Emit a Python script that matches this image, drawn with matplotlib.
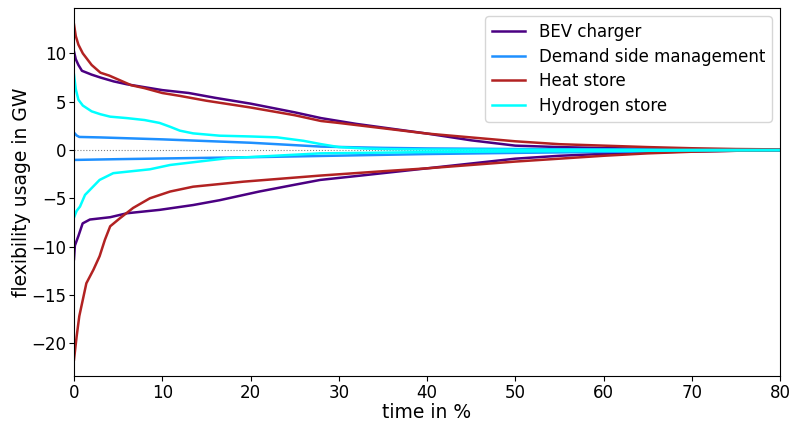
import matplotlib
matplotlib.use("Agg")
import matplotlib.pyplot as plt
import numpy as np

# BEV charger
bev_pos_x = [0, 0.2, 0.5, 0.9, 2, 3, 4.5, 6, 8, 10, 13, 16, 20, 25, 28, 32, 36, 40, 45, 50, 55, 60, 65, 70, 75, 80]
bev_pos_y = [10.2, 9.4, 8.8, 8.2, 7.8, 7.5, 7.1, 6.8, 6.5, 6.2, 5.9, 5.4, 4.8, 3.9, 3.3, 2.7, 2.2, 1.7, 1.0, 0.45, 0.3, 0.2, 0.12, 0.08, 0.05, 0.03]
bev_neg_x = [0, 0.1, 0.3, 0.5, 0.98, 1.8, 4.1, 6, 9.7, 13.5, 16.5, 21, 25, 27.9, 33, 40, 45, 50, 55, 60, 65, 70, 75, 80]
bev_neg_y = [-11.3, -9.9, -9.4, -8.9, -7.6, -7.2, -6.96, -6.55, -6.2, -5.7, -5.2, -4.3, -3.6, -3.1, -2.6, -1.9, -1.4, -0.9, -0.6, -0.4, -0.25, -0.15, -0.08, -0.04]

# Demand side management
dsm_pos_x = [0, 0.3, 0.6, 3, 10, 20, 28, 35, 40, 50, 60, 70, 80]
dsm_pos_y = [1.8, 1.5, 1.35, 1.3, 1.1, 0.75, 0.35, 0.22, 0.16, 0.1, 0.06, 0.03, 0.02]
dsm_neg_x = [0, 5, 10, 20, 27.9, 40, 50, 60, 70, 80]
dsm_neg_y = [-1.03, -0.95, -0.88, -0.75, -0.62, -0.42, -0.3, -0.2, -0.1, -0.05]

# Heat store
heat_pos_x = [0, 0.2, 0.5, 1, 1.5, 2, 3, 4, 5, 6.5, 8, 10, 12, 15, 20, 25, 28, 30, 35, 40, 45, 50, 55, 60, 65, 70, 75, 80]
heat_pos_y = [13.0, 11.8, 10.9, 10.0, 9.4, 8.8, 8.0, 7.7, 7.3, 6.7, 6.4, 5.9, 5.6, 5.1, 4.4, 3.6, 3.0, 2.8, 2.25, 1.7, 1.3, 0.9, 0.6, 0.45, 0.3, 0.18, 0.1, 0.06]
heat_neg_x = [0, 0.3, 0.6, 1, 1.4, 2.2, 2.9, 3.5, 4.1, 5.2, 6.7, 8.6, 10.9, 13.5, 19.2, 27.9, 35, 40, 45, 50, 55, 60, 65, 70, 75, 80]
heat_neg_y = [-21.7, -19.3, -17.2, -15.5, -13.8, -12.4, -11.0, -9.3, -7.9, -7.07, -6.0, -5.0, -4.3, -3.8, -3.28, -2.65, -2.2, -1.9, -1.55, -1.2, -0.9, -0.6, -0.35, -0.18, -0.08, -0.04]

# Hydrogen store
h2_pos_x = [0, 0.2, 0.5, 1, 2, 3, 4.1, 6, 8, 9.7, 10.9, 12, 13.5, 16.5, 20, 23, 26, 27.9, 30, 33, 36, 40, 50, 60, 70, 80]
h2_pos_y = [7.8, 6.3, 5.2, 4.6, 4.0, 3.7, 3.45, 3.3, 3.1, 2.8, 2.4, 2.0, 1.72, 1.48, 1.4, 1.31, 0.95, 0.62, 0.3, 0.15, 0.08, 0.05, 0.03, 0.02, 0.01, 0.01]
h2_neg_x = [0, 0.3, 0.68, 1.25, 2.9, 4.45, 8.6, 10.9, 17.3, 27.9, 40, 50, 60, 70, 80]
h2_neg_y = [-7.0, -6.3, -5.86, -4.65, -3.1, -2.4, -2.0, -1.55, -0.86, -0.35, -0.22, -0.15, -0.1, -0.06, -0.03]

series = [
    ("BEV charger", "#4b0082", bev_pos_x, bev_pos_y, bev_neg_x, bev_neg_y),
    ("Demand side management", "#1e90ff", dsm_pos_x, dsm_pos_y, dsm_neg_x, dsm_neg_y),
    ("Heat store", "#b22222", heat_pos_x, heat_pos_y, heat_neg_x, heat_neg_y),
    ("Hydrogen store", "#00ffff", h2_pos_x, h2_pos_y, h2_neg_x, h2_neg_y),
]

fig = plt.figure(figsize=(7.92, 4.23), dpi=100)
ax = fig.add_axes([74/792, 1 - 376/423, (780-74)/792, (376-8)/423])

ax.axhline(0, color="grey", linestyle=":", linewidth=0.8)
for name, c, px, py, nx, ny in series:
    ax.plot(px, py, color=c, linewidth=1.8, label=name)
    ax.plot(nx, ny, color=c, linewidth=1.8)

ax.set_xlim(0, 80)
ax.set_ylim(-23.4, 14.7)
ax.set_xticks([0, 10, 20, 30, 40, 50, 60, 70, 80])
ax.set_yticks([-20, -15, -10, -5, 0, 5, 10])
ax.tick_params(labelsize=12, pad=2)
ax.set_xlabel("time in %", fontsize=13.5, labelpad=1)
ax.set_ylabel("flexibility usage in GW", fontsize=13.5, labelpad=0)
ax.legend(loc="upper right", fontsize=12, labelspacing=0.4)

fig.savefig("out.png", dpi=100)
